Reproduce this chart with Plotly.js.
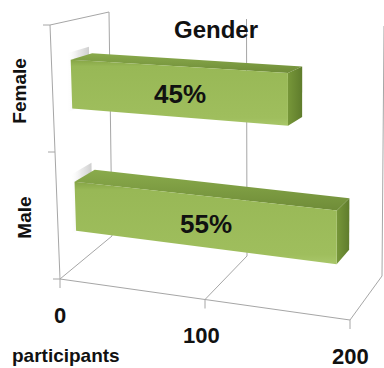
<!DOCTYPE html>
<html>
<head>
<meta charset="utf-8">
<script src="https://cdn.plot.ly/plotly-3.0.1.min.js"></script>
<style>
  html, body { margin: 0; padding: 0; background: #fff; }
  #chart { width: 384px; height: 368px; }
</style>
</head>
<body>
<div id="chart"></div>
<script>
// Gender split of participants, drawn as a 3-D style horizontal bar chart.
const categories = ['Female', 'Male'];
const participants = [149, 183];
const axisTicks = [0, 100, 200];
const axisTickLabels = ['0', '100', '200'];
const chartTitle = 'Gender';
const valueAxisTitle = 'participants';

const W = 384, H = 368;
const vMax = axisTicks[axisTicks.length - 1];

// Screen corners of the 3-D plot box: F/B = front/back, B/T = bottom/top, L/R = value 0 / value max.
const box = {
  FBL: [60, 279], FTL: [50, 25], BBL: [112, 236], BTL: [109, 12],
  FBR: [350, 320], FTR: [352, 38], BBR: [382, 276], BTR: [384, 26]
};

// Trilinear projection: v = value, h = height fraction (0 floor, 1 top), d = depth (0 front, 1 back).
function P(v, h, d) {
  const t = v / vMax;
  const out = [0, 0];
  for (let k = 0; k < 2; k++) {
    const fb = box.FBL[k] * (1 - t) + box.FBR[k] * t;
    const ft = box.FTL[k] * (1 - t) + box.FTR[k] * t;
    const bb = box.BBL[k] * (1 - t) + box.BBR[k] * t;
    const bt = box.BTL[k] * (1 - t) + box.BTR[k] * t;
    const front = fb * (1 - h) + ft * h;
    const back = bb * (1 - h) + bt * h;
    out[k] = front * (1 - d) + back * d;
  }
  return out;
}

const traces = [];

// Walls, floor and gridlines
const gx = [], gy = [];
function seg(a, b) { gx.push(a[0], b[0], null); gy.push(a[1], b[1], null); }
seg(P(0, 0, 0), P(0, 1, 0));      // left wall, front edge
seg(P(0, 1, 0), P(0, 1, 1));      // left wall, top edge
seg(P(0, 0, 0), P(0, 0, 1));      // floor, left edge
seg(P(0, 0, 1), P(0, 1, 1));      // back wall at 0
seg(P(0, 0, 0), P(vMax, 0, 0));   // floor, front edge
axisTicks.forEach(v => {
  if (v > 0) {
    seg(P(v, 0, 0), P(v, 0, 1));  // floor gridline
    seg(P(v, 0, 1), P(v, 1, 1));  // back wall gridline
  }
  const p = P(v, 0, 0);
  seg(p, [p[0], p[1] + 9]);       // value tick mark
});
const nCat = categories.length;
for (let i = 0; i <= nCat; i++) {
  const p = P(0, i / nCat, 0);
  seg(p, [p[0] - 7, p[1]]);       // category tick mark
}
traces.push({
  type: 'scatter', mode: 'lines', x: gx, y: gy,
  line: { color: '#a6a6a6', width: 1 }, hoverinfo: 'skip', showlegend: false
});

function poly(pts, fill, extra) {
  const t = {
    type: 'scatter', mode: 'lines', fill: 'toself',
    x: pts.map(p => p[0]).concat([pts[0][0]]),
    y: pts.map(p => p[1]).concat([pts[0][1]]),
    fillcolor: fill, line: { width: 0, color: fill },
    hoverinfo: 'skip', showlegend: false
  };
  return Object.assign(t, extra || {});
}

const total = participants.reduce((a, b) => a + b, 0);
const dFront = 0.33, dBack = 0.70;
const barLo = 0.28, barHi = 0.68;   // bar extent within its category slot
const annotations = [];

// categories[0] sits on top, so it takes the upper slot
categories.forEach((cat, i) => {
  const slot = nCat - 1 - i;
  const v = participants[i];
  const h0 = (slot + barLo) / nCat, h1 = (slot + barHi) / nCat;

  // soft shadow behind the bar's left end
  traces.push(poly([
    P(-3, h1 + 0.025, dFront), P(-3, h1 + 0.025, dBack + 0.02),
    P(-3, h0 - 0.015, dBack + 0.02), P(-3, h0 - 0.015, dFront)
  ], 'rgba(210,210,210,0.5)', {
    fillgradient: { type: 'horizontal', colorscale: [[0, 'rgba(255,255,255,0)'], [0.5, 'rgba(215,215,215,0.55)'], [1, 'rgba(190,190,190,0.8)']] }
  }));

  // top face
  traces.push(poly([P(0, h1, dFront), P(v, h1, dFront), P(v, h1, dBack), P(0, h1, dBack)], '#7f9e45',
    { fillgradient: { type: 'vertical', colorscale: [[0, '#6f8c38'], [1, '#8aab4c']] } }));
  // end face
  traces.push(poly([P(v, h1, dFront), P(v, h1, dBack), P(v, h0, dBack), P(v, h0, dFront)], '#6b8933',
    { fillgradient: { type: 'horizontal', colorscale: [[0, '#779739'], [1, '#5f7c2c']] } }));
  // front face
  traces.push(poly([P(0, h1, dFront), P(v, h1, dFront), P(v, h0, dFront), P(0, h0, dFront)], '#9bbb59',
    { fillgradient: { type: 'vertical', colorscale: [[0, '#a9c76a'], [0.12, '#9fbe5d'], [0.9, '#98b856'], [1, '#86a546']] } }));

  const c = P(v / 2, (h0 + h1) / 2, dFront);
  annotations.push({
    x: c[0], y: c[1] + 2, xref: 'x', yref: 'y', showarrow: false,
    text: '<b>' + Math.round(v / total * 100) + '%</b>',
    font: { family: 'Liberation Sans, Arial, sans-serif', size: 26, color: '#111' }
  });

  const lp = P(0, (h0 + h1) / 2, 0);
  annotations.push({
    x: lp[0] - 34, y: lp[1], xref: 'x', yref: 'y', showarrow: false, textangle: -90,
    text: '<b>' + cat + '</b>',
    font: { family: 'Liberation Sans, Arial, sans-serif', size: 19, color: '#111' }
  });
});

axisTicks.forEach((v, i) => {
  const p = P(v, 0, 0);
  annotations.push({
    x: p[0] - (i === 1 ? 4 : 0), y: p[1] + 36, xref: 'x', yref: 'y', showarrow: false,
    text: '<b>' + axisTickLabels[i] + '</b>',
    font: { family: 'Liberation Sans, Arial, sans-serif', size: 22, color: '#111' }
  });
});

annotations.push({
  x: 66, y: 355, xref: 'x', yref: 'y', showarrow: false,
  text: '<b>' + valueAxisTitle + '</b>',
  font: { family: 'Liberation Sans, Arial, sans-serif', size: 19, color: '#111' }
});
annotations.push({
  x: 216, y: 29, xref: 'x', yref: 'y', showarrow: false,
  text: '<b>' + chartTitle + '</b>',
  font: { family: 'Liberation Sans, Arial, sans-serif', size: 24, color: '#111' }
});

const layout = {
  width: W, height: H,
  margin: { l: 0, r: 0, t: 0, b: 0 },
  paper_bgcolor: '#fff', plot_bgcolor: '#fff',
  xaxis: { range: [0, W], visible: false, fixedrange: true },
  yaxis: { range: [H, 0], visible: false, fixedrange: true },
  annotations: annotations,
  showlegend: false
};

Plotly.newPlot('chart', traces, layout, { displayModeBar: false, staticPlot: true });
</script>
</body>
</html>
